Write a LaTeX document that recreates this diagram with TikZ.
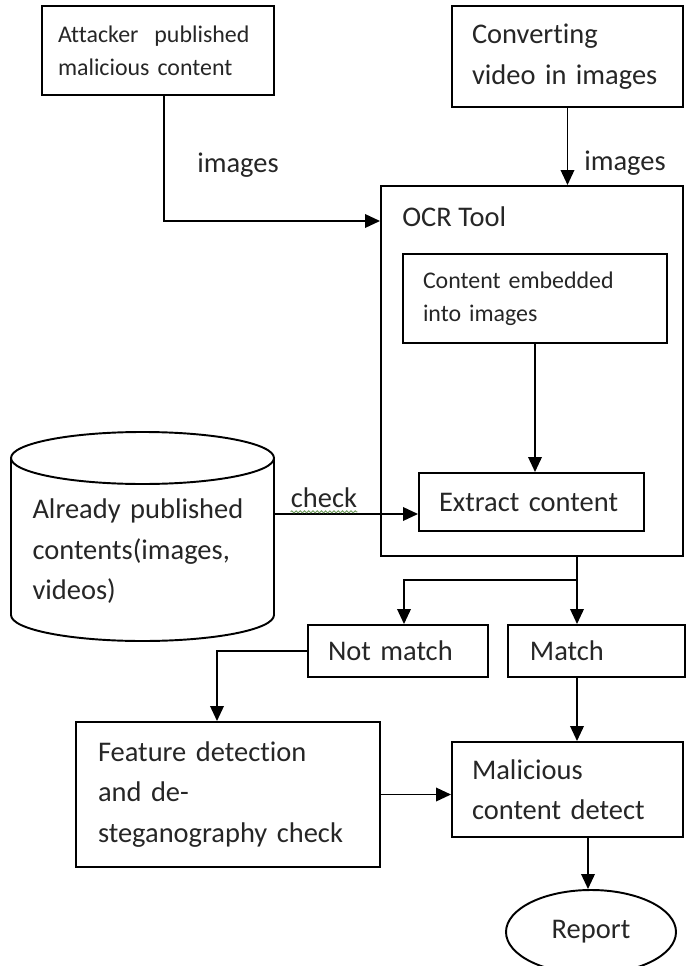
\documentclass[tikz,border=0pt]{standalone}
\usepackage{fontspec}
\setmainfont{Carlito}[Ligatures=CommonOff]
\usepackage{xcolor}
\definecolor{ocrink}{HTML}{262626}
\definecolor{ocrgreen}{HTML}{6E9A5C}
\usepackage{tikz}
\usetikzlibrary{shapes.geometric,arrows.meta,positioning,calc,decorations.pathmorphing}

\newcommand{\bigtxt}{\fontsize{16.2}{23}\selectfont}
\newcommand{\smalltxt}{\fontsize{13.6}{19}\selectfont}

\begin{document}
\begin{tikzpicture}[node distance=0.36cm,
    box/.style={draw=black, line width=1.1pt, align=left, inner xsep=0.40cm,
                font=\bigtxt, text=ocrink},
    lbl/.style={font=\bigtxt, text=ocrink, inner sep=0pt},
    arr/.style={-{Triangle[length=0.30cm,width=0.27cm]}, line width=1.1pt},
    ln/.style={line width=1.1pt}]

  \useasboundingbox (0,0) rectangle (13.7,-19.32);

  %% Input sources
  \node[box, font=\smalltxt, text width=4.0cm, inner xsep=0.32cm,
        minimum height=1.78cm] (att) at (3.16,-1.01)
    {Attacker\ \ published\\malicious content};

  \node[box, text width=3.82cm, minimum height=2.02cm] (conv) at (11.35,-1.13)
    {Converting\\video in images};

  %% OCR tool frame
  \node[draw=black, line width=1.1pt, minimum width=6.04cm,
        minimum height=7.40cm] (ocr) at (10.64,-7.42) {};
  \node[lbl, anchor=west] (ocrlbl) at (8.04,-4.34) {OCR Tool};

  \node[box, font=\smalltxt, text width=4.48cm, minimum height=1.78cm]
    (emb) at (10.70,-5.97) {Content embedded\\into images};

  \node[box, text width=3.70cm, minimum height=1.16cm] (ext) at (10.63,-10.04)
    {Extract content};

  %% Database of published contents
  \draw[ln] (0.22,-9.16) -- (0.22,-12.30)
    arc[start angle=180, end angle=360, x radius=2.63cm, y radius=0.52cm]
    -- (5.48,-9.16);
  \draw[ln] (2.85,-9.16) ellipse [x radius=2.63cm, y radius=0.52cm];
  \node[lbl, align=left, text width=4.40cm] (db) at (2.85,-11.03)
    {Already published\\contents(images,\\videos)};
  \coordinate (dbout) at (5.48,-10.28);

  %% Results
  \node[box, text width=2.80cm, minimum height=1.04cm] (nm) at (7.96,-13.02)
    {Not match};
  \node[box, text width=2.66cm, inner xsep=0.44cm, minimum height=1.04cm,
        right=0.36cm of nm] (mt) {Match};

  \node[box, text width=5.20cm, inner xsep=0.44cm, minimum height=2.90cm]
    (feat) at (4.56,-15.89)
    {Feature detection\\and de-\\steganography check};

  \node[box, text width=3.82cm, minimum height=1.90cm] (mal) at (11.35,-15.79)
    {Malicious\\content detect};

  \node[draw=black, line width=1.1pt, ellipse, minimum width=3.40cm,
        minimum height=1.68cm, font=\bigtxt, text=ocrink]
    (rep) at (11.82,-18.64) {Report};

  %% Arrows
  \draw[arr] ([xshift=0.12cm]att.south) |- (ocr.west |- 0,-4.42);
  \node[lbl] (img1) at (4.76,-3.30) {images};

  \draw[arr] (conv) -- (conv |- ocr.north);
  \node[lbl] (img2) at (12.50,-3.26) {images};

  \draw[arr] (emb) -- (emb |- ext.north);

  \draw[arr] (dbout) -- (dbout -| ext.west);
  \node[lbl] (chk) at (6.48,-9.96) {check};
  \draw[ocrgreen, line width=0.5pt, decorate,
        decoration={snake, amplitude=0.6pt, segment length=2.4pt}]
    ([yshift=-0.07cm]chk.south west) -- ([yshift=-0.07cm]chk.south east);

  \coordinate (split) at (11.54,-11.60);
  \draw[ln] (split |- ocr.south) -- (split);
  \draw[arr] (split) -| ([xshift=0.12cm]nm.north);
  \draw[arr] (split) -- (split |- mt.north);

  \draw[arr] (nm.west) -| ([xshift=-0.22cm]feat.north);
  \draw[arr] (split |- mt.south) -- (split |- mal.north);
  \draw[arr] (feat.east) -- (feat.east -| mal.west);
  \draw[arr] ([xshift=-0.06cm]rep.north |- mal.south) -- ([xshift=-0.06cm]rep.north);

\end{tikzpicture}
\end{document}
